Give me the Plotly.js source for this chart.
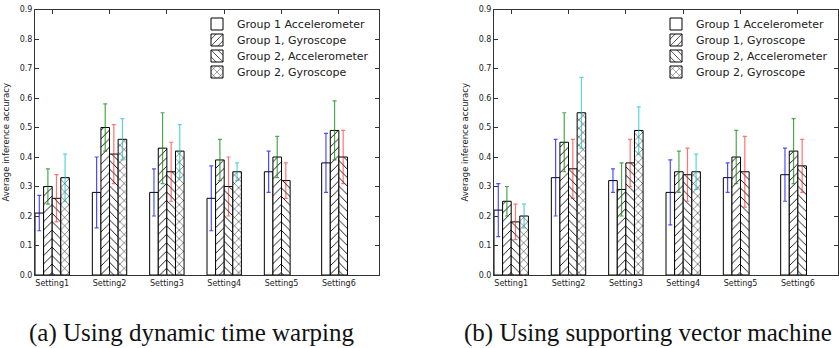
<!DOCTYPE html>
<html>
<head>
<meta charset="utf-8">
<script src="https://cdn.plot.ly/plotly-3.0.1.min.js"></script>
<style>html,body{margin:0;padding:0;background:#fff;}#chart{width:839px;height:348px;}</style>
</head>
<body>
<div id="chart"></div>
<script>
const categories = ["Setting1","Setting2","Setting3","Setting4","Setting5","Setting6"];
const seriesNames = ["Group 1 Accelerometer","Group 1, Gyroscope","Group 2, Accelerometer","Group 2, Gyroscope"];
const yTickVals = [0,0.1,0.2,0.3,0.4,0.5,0.6,0.7,0.8,0.9];

// (a) dynamic time warping
const dtwG1Acc = [0.21,0.28,0.28,0.26,0.35,0.38];
const dtwG1AccErr = [0.06,0.12,0.08,0.11,0.07,0.10];
const dtwG1Gyr = [0.30,0.50,0.43,0.39,0.40,0.49];
const dtwG1GyrErr = [0.06,0.08,0.12,0.07,0.07,0.10];
const dtwG2Acc = [0.26,0.41,0.35,0.30,0.32,0.40];
const dtwG2AccErr = [0.08,0.10,0.10,0.10,0.06,0.09];
const dtwG2Gyr = [0.33,0.46,0.42,0.35,null,null];
const dtwG2GyrErr = [0.08,0.07,0.09,0.03,null,null];

// (b) supporting vector machine
const svmG1Acc = [0.22,0.33,0.32,0.28,0.33,0.34];
const svmG1AccErr = [0.09,0.13,0.04,0.11,0.05,0.09];
const svmG1Gyr = [0.25,0.45,0.29,0.35,0.40,0.42];
const svmG1GyrErr = [0.05,0.10,0.09,0.07,0.09,0.11];
const svmG2Acc = [0.18,0.36,0.38,0.34,0.35,0.37];
const svmG2AccErr = [0.06,0.10,0.08,0.09,0.12,0.09];
const svmG2Gyr = [0.20,0.55,0.49,0.35,null,null];
const svmG2GyrErr = [0.04,0.12,0.08,0.06,null,null];

const patterns = ["", "/", "\\", "x"];
const errColors = ["rgba(0,0,255,0.7)","rgba(0,128,0,0.7)","rgba(255,0,0,0.55)","rgba(0,191,191,0.65)"];

function mk(vals, errs, idx, xa, ya, leg){
  return {
    type: "bar", x: categories, y: vals, name: seriesNames[idx],
    xaxis: xa, yaxis: ya, legend: leg, showlegend: true,
    marker: {color: "white", line: {color: "black", width: 1},
      pattern: {shape: patterns[idx], fgcolor: "black", bgcolor: "white", size: 6, solidity: 0.15}},
    error_y: {type: "data", array: errs, visible: true, color: errColors[idx], thickness: 1.2, width: 2}
  };
}

const data = [
  mk(dtwG1Acc, dtwG1AccErr, 0, "x", "y", "legend"),
  mk(dtwG1Gyr, dtwG1GyrErr, 1, "x", "y", "legend2"),
  mk(dtwG2Acc, dtwG2AccErr, 2, "x", "y", "legend3"),
  mk(dtwG2Gyr, dtwG2GyrErr, 3, "x", "y", "legend4"),
  mk(svmG1Acc, svmG1AccErr, 0, "x2", "y2", "legend5"),
  mk(svmG1Gyr, svmG1GyrErr, 1, "x2", "y2", "legend6"),
  mk(svmG2Acc, svmG2AccErr, 2, "x2", "y2", "legend7"),
  mk(svmG2Gyr, svmG2GyrErr, 3, "x2", "y2", "legend8")
];

const W = 839, H = 348;
const yDom = [1 - 275/H, 1 - 9.5/H];
const tickFont = {family: "DejaVu Sans", size: 8, color: "#222"};
function xax(dom, anchor){
  return {domain: dom, anchor: anchor, type: "category", range: [-0.3, 5.7],
    showline: true, linecolor: "#333", linewidth: 1, mirror: "ticks",
    ticks: "inside", ticklen: 4, tickcolor: "#333", tickfont: tickFont, showgrid: false, zeroline: false, fixedrange: true};
}
function yax(anchor){
  return {domain: yDom, anchor: anchor, range: [0, 0.9], tickvals: yTickVals, tickformat: ".1f",
    showline: true, linecolor: "#333", linewidth: 1, mirror: "ticks",
    ticks: "inside", ticklen: 4, tickcolor: "#333", tickfont: tickFont, showgrid: false, zeroline: false,
    title: {text: "Average inference accuracy", font: {family: "DejaVu Sans", size: 8.5, color: "#222"}, standoff: 8}};
}
const legFont = {family: "DejaVu Sans", size: 11, color: "#222"};
function leg(xpx, ypx){
  return {visible: true, x: xpx/W, y: 1 - ypx/H, xanchor: "left", yanchor: "middle", bgcolor: "rgba(255,255,255,0)", font: legFont, borderwidth: 0};
}
const legRows = [24, 40, 56, 72];
const layout = {
  width: W, height: H, margin: {l: 0, r: 0, t: 0, b: 0},
  paper_bgcolor: "white", plot_bgcolor: "white", showlegend: true,
  barmode: "group", bargap: 0.4, bargroupgap: 0,
  xaxis: xax([35/W, 379/W], "y"),
  yaxis: yax("x"),
  xaxis2: xax([494/W, 838/W], "y2"),
  yaxis2: yax("x2"),
  legend: leg(197, legRows[0]),
  legend2: leg(197, legRows[1]),
  legend3: leg(197, legRows[2]),
  legend4: leg(197, legRows[3]),
  legend5: leg(656, legRows[0]),
  legend6: leg(656, legRows[1]),
  legend7: leg(656, legRows[2]),
  legend8: leg(656, legRows[3]),
  annotations: [
    {text: "(a) Using dynamic time warping", xref: "paper", yref: "paper", x: 28/W, y: 0, xanchor: "left", yanchor: "bottom", showarrow: false, borderpad: 0,
      font: {family: "Liberation Serif", size: 25, color: "#111"}},
    {text: "(b) Using supporting vector machine", xref: "paper", yref: "paper", x: 463/W, y: 0, xanchor: "left", yanchor: "bottom", showarrow: false, borderpad: 0,
      font: {family: "Liberation Serif", size: 25, color: "#111"}}
  ]
};
Plotly.newPlot("chart", data, layout, {staticPlot: true, displayModeBar: false});
</script>
</body>
</html>
